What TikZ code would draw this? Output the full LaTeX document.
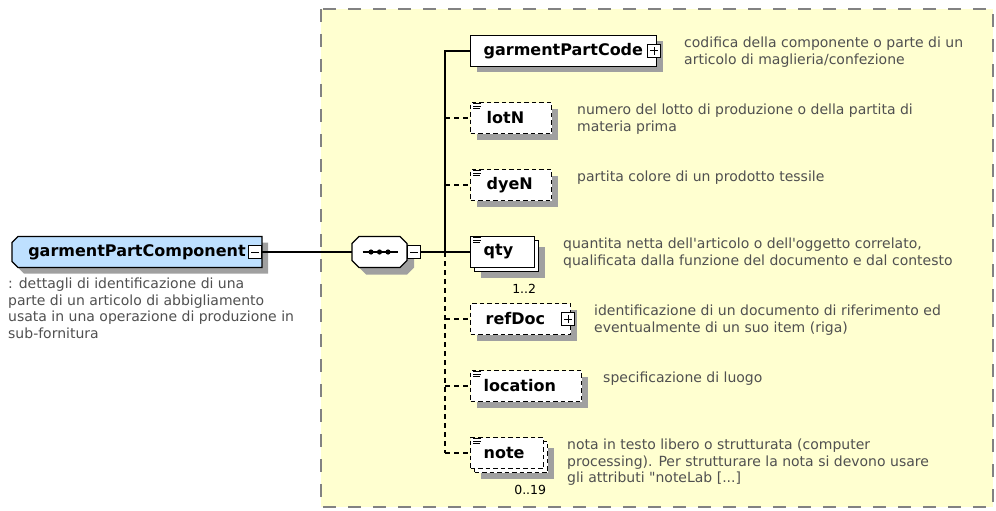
\documentclass[tikz,border=0pt]{standalone}
\usepackage{fontspec}
\setmainfont{DejaVu Sans}
\usetikzlibrary{shadows}
\definecolor{bgyellow}{RGB}{255,255,208}
\definecolor{rootblue}{RGB}{190,224,255}
\definecolor{shadowgray}{RGB}{160,160,160}
\definecolor{descgray}{RGB}{80,80,80}
\definecolor{framegray}{RGB}{130,130,130}
\newcommand{\namefont}{\bfseries\fontsize{16}{18}\selectfont}
\newcommand{\descfont}{\fontsize{14}{16.5}\selectfont}
\newcommand{\elemlabel}[3]{\makebox[#1pt][l]{\hspace{#2pt}#3}}
% chamfered outline on the west side only: node, dx, dy, chamfer
\newcommand{\chamfL}[4]{([shift={(#2+#4,#3)}]#1.north west) -- ([shift={(#2,#3)}]#1.north east) -- ([shift={(#2,#3)}]#1.south east) -- ([shift={(#2+#4,#3)}]#1.south west) -- ([shift={(#2,#3-#4)}]#1.south west) -- ([shift={(#2,#3+#4)}]#1.north west) -- cycle}
% chamfered outline on all corners
\newcommand{\chamfA}[4]{([shift={(#2+#4,#3)}]#1.north west) -- ([shift={(#2-#4,#3)}]#1.north east) -- ([shift={(#2,#3+#4)}]#1.north east) -- ([shift={(#2,#3-#4)}]#1.south east) -- ([shift={(#2-#4,#3)}]#1.south east) -- ([shift={(#2+#4,#3)}]#1.south west) -- ([shift={(#2,#3-#4)}]#1.south west) -- ([shift={(#2,#3+#4)}]#1.north west) -- cycle}
\pgfdeclarelayer{framelayer}
\pgfdeclarelayer{shapelayer}
\pgfsetlayers{framelayer,shapelayer,main}
\begin{document}
\begin{tikzpicture}[x=1pt,y=-1pt,
  conn/.style={draw=black,line width=1.2pt},
  optconn/.style={conn,dash pattern=on 5pt off 4pt},
  basebox/.style={draw=black,line width=1.3pt,fill=white,minimum height=31pt,inner sep=0pt,anchor=west,font=\namefont},
  elem/.style={drop shadow={shadow xshift=6pt,shadow yshift=-6pt,fill=shadowgray,opacity=1},basebox},
  optelem/.style={elem,dash pattern=on 4.5pt off 3pt},
  multielem/.style={drop shadow={shadow xshift=10pt,shadow yshift=-10pt,fill=shadowgray,opacity=1},copy shadow={shadow xshift=4pt,shadow yshift=-4pt,fill=white,draw=black,line width=1.3pt},basebox},
  optmultielem/.style={multielem,dash pattern=on 4.5pt off 3pt},
  shapenode/.style={draw=none,fill=none,inner sep=0pt,outer sep=0pt,minimum height=31pt,anchor=west,font=\namefont},
  pmbox/.style={draw=black,line width=1pt,fill=white,minimum size=13pt,inner sep=0pt},
  minusbox/.style={pmbox,path picture={\draw[line width=1pt] ([xshift=2.5pt]path picture bounding box.west)--([xshift=-2.5pt]path picture bounding box.east);}},
  plusbox/.style={pmbox,path picture={\draw[line width=1pt] ([xshift=2.5pt]path picture bounding box.west)--([xshift=-2.5pt]path picture bounding box.east) ([yshift=2.5pt]path picture bounding box.south)--([yshift=-2.5pt]path picture bounding box.north);}},
  desc/.style={anchor=north west,align=left,font=\descfont,text=descgray,inner sep=0pt},
  mult/.style={font=\fontsize{12.5}{14}\selectfont,inner sep=0pt,anchor=east},
  pics/simpleicon/.style={code={\draw[line width=0.9pt] (3,2)--(11,2) (3,4.5)--(11,4.5) (3,7)--(10,7);}}
]
\useasboundingbox (0,0) rectangle (996,511);
% background and group frame
\begin{pgfonlayer}{framelayer}
\fill[white] (0,0) rectangle (996,511);
\draw[framegray,line width=1.8pt,dash pattern=on 13pt off 12pt,fill=bgyellow] (321,9) rectangle (993,507);
\end{pgfonlayer}

% root
\node[shapenode,minimum width=250pt] (root) at (12,252) {garmentPartComponent\hspace{4pt}};
\node[minusbox,anchor=east] (rootm) at (root.east) {};
\node[desc] (rootd) at (8,278) {: dettagli di identificazione di una\\parte di un articolo di abbigliamento\\usata in una operazione di produzione in\\sub-fornitura};

% sequence compositor
\node[shapenode,minimum width=55pt] (seq) at (352,252) {};
\node[minusbox,anchor=west] (seqm) at (seq.east) {};
\draw[line width=1.2pt] ([shift={(-17,0)}]seq.center) -- ([shift={(18,0)}]seq.center);
\foreach \dx in {-8.5,0,8.5} \fill ([shift={(\dx,0)}]seq.center) circle (2.6);
\coordinate (sp) at (445,252);

\begin{pgfonlayer}{shapelayer}
\fill[shadowgray] \chamfL{root}{6}{6}{6};
\filldraw[fill=rootblue,draw=black,line width=1.3pt] \chamfL{root}{0}{0}{6};
\fill[shadowgray] \chamfA{seq}{7}{7}{7};
\filldraw[fill=white,draw=black,line width=1.3pt] \chamfA{seq}{0}{0}{7};
\end{pgfonlayer}

% elements
\node[elem] (gpc) at (470,51) {\elemlabel{186}{13}{garmentPartCode}};
\node[plusbox] (gpcp) at ([xshift=-3pt]gpc.east) {};
\node[optelem] (lotn) at (470,118) {\elemlabel{81}{16}{lotN}};
\pic at (lotn.north west) {simpleicon};
\node[optelem] (dyen) at (470,185) {\elemlabel{81}{16}{dyeN}};
\pic at (dyen.north west) {simpleicon};
\node[multielem] (qty) at (470,252) {\elemlabel{64}{13}{qty}};
\pic at (qty.north west) {simpleicon};
\node[mult] (qtym) at ([shift={(1,21)}]qty.south east) {1..2};
\node[optelem] (refdoc) at (470,319) {\elemlabel{100}{15}{refDoc}};
\node[plusbox] (refdocp) at ([xshift=-3pt]refdoc.east) {};
\node[optelem] (loc) at (470,386) {\elemlabel{111}{13}{location}};
\pic at (loc.north west) {simpleicon};
\node[optmultielem] (note) at (470,453) {\elemlabel{73}{13}{note}};
\pic at (note.north west) {simpleicon};
\node[mult] (notem) at ([shift={(2,21)}]note.south east) {0..19};

% connectors
\draw[conn] (rootm.east) -- (seq.west);
\draw[conn] (seqm.east) -- (sp);
\draw[conn] (gpc.west) -| (sp);
\draw[optconn] (sp) -- (sp |- note.west);
\draw[optconn] (sp |- lotn.west) -- (lotn.west);
\draw[optconn] (sp |- dyen.west) -- (dyen.west);
\draw[conn] (sp) -- (qty.west);
\draw[optconn] (sp |- refdoc.west) -- (refdoc.west);
\draw[optconn] (sp |- loc.west) -- (loc.west);
\draw[optconn] (sp |- note.west) -- (note.west);

% descriptions
\node[desc] (gpcd) at (684,37) {codifica della componente o parte di un\\articolo di maglieria/confezione};
\node[desc] (lotnd) at (577,104) {numero del lotto di produzione o della partita di\\materia prima};
\node[desc] (dyend) at (577,171) {partita colore di un prodotto tessile};
\node[desc] (qtyd) at (563,238) {quantita netta dell\textquotesingle articolo o dell\textquotesingle oggetto correlato,\\qualificata dalla funzione del documento e dal contesto};
\node[desc] (refdocd) at (594,305) {identificazione di un documento di riferimento ed\\eventualmente di un suo item (riga)};
\node[desc] (locd) at (603,372) {specificazione di luogo};
\node[desc] (noted) at (567,439) {nota in testo libero o strutturata (computer\\processing). Per strutturare la nota si devono usare\\gli attributi \textquotedbl noteLab [...]};
\end{tikzpicture}
\end{document}
